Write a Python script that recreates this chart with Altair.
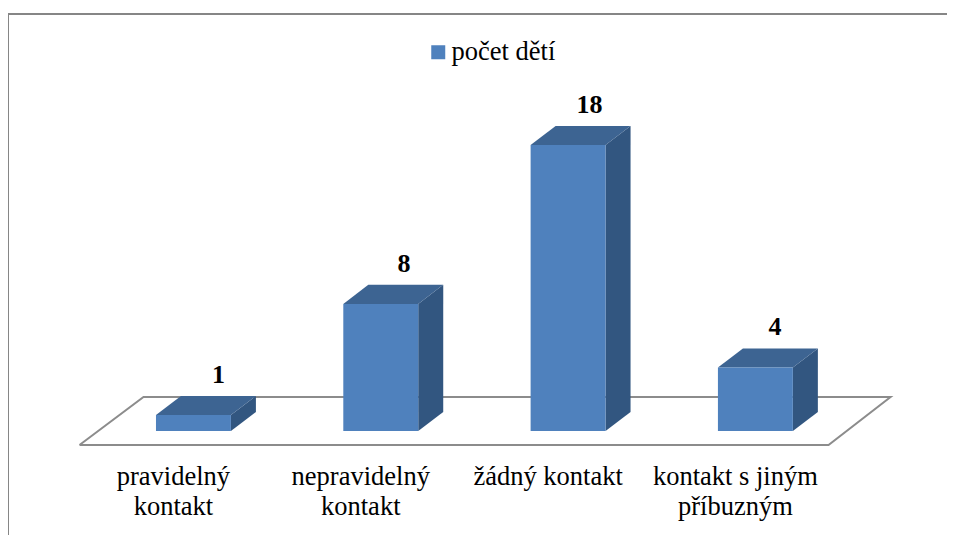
import altair as alt
import pandas as pd

categories = ["pravidelný\nkontakt", "nepravidelný\nkontakt", "žádný kontakt", "kontakt s jiným\npříbuzným"]
values = [1, 8, 18, 4]
series_name = "počet dětí"

W, H = 939, 527
BAR_W = 0.40
DX = 0.1335
DY = 1.196
LABEL_SPREAD = 0.9905
X_DOM = [-0.990, 4.0229]
Y_DOM = [-6.545, 26.62]
FONT = "Liberation Serif"

front, side, top = [], [], []
for i, (c, v) in enumerate(zip(categories, values)):
    l, r = i - BAR_W / 2, i + BAR_W / 2
    front.append(dict(cat=c, l=l, r=r, v=v, base=0, s=series_name, i=i,
                      tx=i * LABEL_SPREAD + DX, ty=v + DY))
    side += [dict(cat=c, x=r, y=v, y2=0), dict(cat=c, x=r + DX, y=v + DY, y2=DY)]
    top += [dict(cat=c, x=l, y=v, y2=v), dict(cat=c, x=l + DX, y=v, y2=v + DY),
            dict(cat=c, x=r, y=v, y2=v + DY), dict(cat=c, x=r + DX, y=v + DY, y2=v + DY)]
front, side, top = pd.DataFrame(front), pd.DataFrame(side), pd.DataFrame(top)
floor = pd.DataFrame([
    dict(o=0, x=-0.6083, y=-0.88), dict(o=1, x=3.3905, y=-0.88),
    dict(o=2, x=3.7215, y=2.14), dict(o=3, x=-0.2666, y=2.14), dict(o=4, x=-0.6083, y=-0.88),
])

xs = alt.Scale(domain=X_DOM, nice=False, zero=False)
ys = alt.Scale(domain=Y_DOM, nice=False, zero=False)
X = lambda f: alt.X(f, type="quantitative", scale=xs, axis=None)
Y = lambda f: alt.Y(f, type="quantitative", scale=ys, axis=None)

floor_l = alt.Chart(floor).mark_line(color="#8C8C8C", strokeWidth=2, clip=True).encode(
    x=X("x"), y=Y("y"), order=alt.Order("o:Q"))
frame_top = alt.Chart(front.head(1)).mark_rule(color="#868686", strokeWidth=2).encode(
    x=alt.value(0), x2=alt.value(W), y=alt.value(6))
frame_left = alt.Chart(front.head(1)).mark_rule(color="#868686", strokeWidth=2).encode(
    x=alt.value(0), y=alt.value(6), y2=alt.value(H))
side_l = alt.Chart(side).mark_area(color="#325680").encode(
    x=X("x"), y=Y("y"), y2="y2", detail="cat:N")
top_l = alt.Chart(top).mark_area(color="#3D6492").encode(
    x=X("x"), y=Y("y"), y2="y2", detail="cat:N")
front_l = alt.Chart(front).mark_rect().encode(
    x=X("l"), x2="r", y=Y("base"), y2="v",
    color=alt.Color("s:N", scale=alt.Scale(domain=[series_name], range=["#4F81BD"]),
                    legend=alt.Legend(title=None, orient="none", legendX=417, legendY=31,
                                      symbolType="square", symbolSize=196, symbolStrokeWidth=0,
                                      labelFont=FONT, labelFontSize=26.5, labelColor="#000000",
                                      labelOffset=0, symbolOpacity=1)))
val_l = alt.Chart(front).mark_text(font=FONT, fontSize=26, fontWeight="bold", color="#000000",
                                   baseline="middle", dy=-21).encode(
    x=X("tx"), y=Y("ty"), text="v:Q")
cat_l = alt.Chart(front).mark_text(font=FONT, fontSize=26.5, color="#000000", lineBreak="\n",
                                   lineHeight=30, baseline="top", dx=-20, dy=33).encode(
    x=X("i"), y=Y("base"), text="cat:N")

chart = alt.layer(frame_top, frame_left, floor_l, side_l, top_l, front_l, val_l, cat_l).properties(
    width=W, height=H, padding=0, autosize=alt.AutoSizeParams(type="none"),
    background="#FFFFFF"
).configure_view(stroke=None)

chart.save("out.html", embed_options={"renderer": "svg", "actions": False})
